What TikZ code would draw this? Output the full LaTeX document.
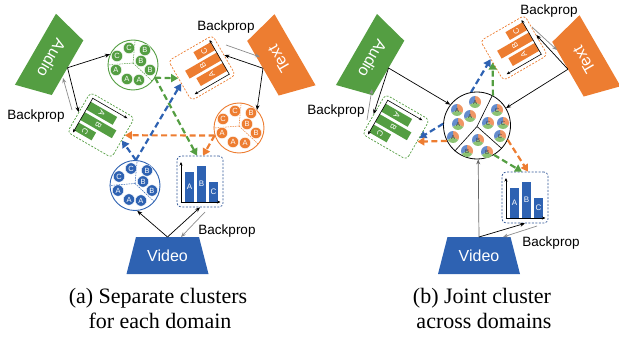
\documentclass[tikz,border=0pt]{standalone}
\usepackage{fontspec}
\setmainfont{Liberation Sans}
\newfontfamily\capfont{Liberation Serif}
\usetikzlibrary{arrows.meta,calc}
\definecolor{cGreen}{RGB}{84,158,66}
\definecolor{cOrange}{RGB}{237,125,49}
\definecolor{cBlue}{RGB}{46,98,178}
\definecolor{cBlueD}{RGB}{47,85,151}
\definecolor{cGray}{RGB}{140,140,140}
\definecolor{jOr}{RGB}{240,150,100}
\definecolor{jBl}{RGB}{100,140,205}
\definecolor{jGr}{RGB}{140,195,115}
\tikzset{
  modtext/.style={text=white, font=\fontsize{16}{18}\selectfont, inner sep=0pt},
  chartbox/.style={draw, dash pattern=on 2pt off 1.5pt, line width=0.7pt, rounded corners=4pt, fill=white, minimum width=46pt, minimum height=51pt, inner sep=0pt},
  clusterc/.style={circle, line width=0.9pt, fill=white, minimum size=50pt, inner sep=0pt},
  jointc/.style={circle, draw=black, line width=0.8pt, fill=white, minimum size=67pt, inner sep=0pt},
  divider/.style={line width=0.5pt, dash pattern=on 1.5pt off 1pt},
  letterdot/.style={circle, minimum size=11.4pt, inner sep=0pt, draw=white, line width=0.4pt, text=white, font=\fontsize{7.5}{8}\selectfont},
  jlbl/.style={inner sep=0pt, text=black!75, font=\fontsize{6}{7}\selectfont},
  fwd/.style={draw=black, line width=0.7pt, -{Stealth[length=5pt,width=4pt]}},
  bwd/.style={draw=cGray, line width=0.7pt, -{Stealth[length=5pt,width=4pt]}},
  xarrow/.style={line width=2.2pt, dash pattern=on 6pt off 3.5pt, -{Triangle[length=7pt,width=8pt]}},
  bplabel/.style={font=\fontsize{13.5}{15}\selectfont, inner sep=0pt, anchor=base},
  caplabel/.style={font=\capfont\fontsize{22}{25}\selectfont, inner sep=0pt, anchor=base},
  axisline/.style={line width=0.6pt, -{Stealth[length=3.5pt,width=3pt]}},
  barlbl/.style={text=white, font=\fontsize{8}{9}\selectfont, inner sep=0pt},
}
\newcommand\modality[6]{%
  \begin{scope}[shift={(#2,#3)}, rotate=#4]
    \fill[#5] (-31.5,-18.5) -- (31.5,-18.5) -- (41,18.5) -- (-41,18.5) -- cycle;
    \node[modtext, transform shape] (#1) at (0,0) {#6};
    \coordinate (#1in) at (0,-18.5);
  \end{scope}}
\newcommand\barchart[2]{%
  \fill[#1] (-15,20.5) rectangle (-6,-10);
  \fill[#1] (-3,20.5) rectangle (6,-16);
  \fill[#1] (9,20.5) rectangle (18,0.5);
  \draw[axisline] (-19,20.8) -- (-19,-19.5);
  \draw[axisline] (-19.3,20.5) -- (20.5,20.5);
  \node[barlbl] (#2a) at (-10.5,5) {A};
  \node[barlbl] (#2b) at (1.5,2) {B};
  \node[barlbl] (#2c) at (13.5,10.5) {C};}
\newcommand\chartat[6]{%
  \node[chartbox, draw=#5, rotate=#4] (#1) at (#2,#3) {};
  \begin{scope}[shift={(#2,#3)}, rotate=#4, every node/.append style={transform shape}]
    \barchart{#6}{#1}
  \end{scope}}
\newcommand\clustergroup[4]{%
  \node[clusterc, draw=#4] (#1) at (#2,#3) {};
  \draw[divider, draw=#4] ($(#1)+(0,-2)$) -- (#1.85);
  \draw[divider, draw=#4] ($(#1)+(0,-2)$) -- (#1.180);
  \draw[divider, draw=#4] ($(#1)+(0,-2)$) -- (#1.-40);
  \foreach \dx/\dy/\l [count=\i] in {-16/-9/C, -4/-17/C, 12/-15/B, 8/-4/B, 17/5/B, -17/5/A, -6/14/A, 6/15/A}
    \node[letterdot, fill=#4] (#1d\i) at ($(#1)+(\dx,\dy)$) {\l};}
\newcommand\jdot[4]{%
  \begin{scope}[shift={(#2,#3)}]
    \clip (0,0) circle[radius=6pt];
    \fill[jOr] (0,0) -- (8.66,5) -- (10,-10) -- (0,-10) -- cycle;
    \fill[jBl] (0,0) -- (0,-10) -- (-10,-10) -- (-8.66,5) -- cycle;
    \fill[jGr] (0,0) -- (-8.66,5) -- (-10,10) -- (10,10) -- (8.66,5) -- cycle;
  \end{scope}
  \node[jlbl] (#1) at (#2,#3) {#4};}
\begin{document}
\begin{tikzpicture}[x=1pt,y=-1pt]
\useasboundingbox (0,0) rectangle (619,337);

% ================= LEFT PANEL =================
\modality{audL}{51.5}{58.5}{-120}{cGreen}{Audio}
\modality{txtL}{279}{59}{120}{cOrange}{Text}
\modality{vidL}{167.5}{255.5}{0}{cBlue}{Video}

\chartat{gbL}{101}{125}{-120}{cGreen}{cGreen}
\chartat{obL}{202}{68}{120}{cOrange}{cOrange}
\chartat{bbL}{200}{181.5}{0}{cBlueD}{cBlue}

\clustergroup{gcL}{133}{65}{cGreen}
\clustergroup{ocL}{239}{128}{cOrange}
\clustergroup{bcL}{135}{185.5}{cBlue}

\draw[fwd] (audLin) -- (gcL.155);
\draw[fwd] (audLin) -- (gbL.south);
\draw[fwd] (txtLin) -- (obL.south);
\draw[fwd] (txtLin) -- (ocL.45);
\draw[fwd] (vidLin) -- (bcL.-85);
\draw[fwd] (vidLin) -- (bbL.south);

\coordinate (bpA1s) at (72,110); \coordinate (bpA1e) at (63,78);
\coordinate (bpT1s) at (226,45); \coordinate (bpT1e) at (260,57);
\coordinate (bpV1s) at (205,212); \coordinate (bpV1e) at (181,237);
\draw[bwd] (bpA1s) -- (bpA1e);
\draw[bwd] (bpT1s) -- (bpT1e);
\draw[bwd] (bpV1s) -- (bpV1e);

\draw[xarrow, cGreen] (gcL.-30) -- ($(obL.north)!3pt!(obL.north east)$);
\draw[xarrow, cGreen] (gcL.-30) -- ($(bbL.north)!3pt!(bbL.north west)$);
\draw[xarrow, cOrange] (ocL.197) -- ($(gbL.north)!3pt!(gbL.north west)$);
\draw[xarrow, cOrange] (ocL.197) -- ($(bbL.north)!3pt!(bbL.north east)$);
\draw[xarrow, cBlue] (bcL.88) -- ($(gbL.north)!3pt!(gbL.north east)$);
\draw[xarrow, cBlue] (bcL.88) -- ($(obL.north)!3pt!(obL.north west)$);

\node[bplabel] (bpL1) at (36,119) {Backprop};
\node[bplabel] (bpL2) at (226,31) {Backprop};
\node[bplabel] (bpL3) at (227,234) {Backprop};

\node[caplabel] (capA1) at (158,303) {(a) Separate clusters};
\node[caplabel] (capA2) at (160,328) {for each domain};

% ================= RIGHT PANEL =================
\modality{audR}{372.5}{58.75}{-120}{cGreen}{Audio}
\modality{txtR}{584}{60}{120}{cOrange}{Text}
\modality{vidR}{479}{255.5}{0}{cBlue}{Video}

\chartat{gbR}{396}{127}{-120}{cGreen}{cGreen}
\chartat{obR}{514}{48}{120}{cOrange}{cOrange}
\chartat{bbR}{525}{197.5}{0}{cBlueD}{cBlue}

\node[jointc] (jc) at (477,125.5) {};
\draw[line width=0.6pt] ($(jc)+(0,1)$) -- (jc.63);
\draw[line width=0.6pt] ($(jc)+(0,1)$) -- (jc.229);
\draw[line width=0.6pt] ($(jc)+(0,1)$) -- (jc.-43);
\jdot{ja1}{457}{110}{A}
\jdot{ja2}{475}{102}{A}
\jdot{ja3}{470}{116}{A}
\jdot{ja4}{458}{124}{A}
\jdot{ja5}{453}{137}{A}
\jdot{jc1}{497}{110}{C}
\jdot{jc2}{488}{123}{C}
\jdot{jc3}{503}{123}{C}
\jdot{jc4}{500}{136}{C}
\jdot{jb1}{478}{140}{B}
\jdot{jb2}{467}{151}{B}
\jdot{jb3}{487}{152}{B}

\draw[fwd] (audRin) -- (jc.142);
\draw[fwd] (audRin) -- (gbR.south);
\draw[fwd] (txtRin) -- (obR.south);
\draw[fwd] (txtRin) -- (jc.31);
\draw[fwd, draw=black!60] (vidRin) -- (jc.-88);
\draw[fwd] (vidRin) -- (bbR.south);

\coordinate (bpA2s) at (367,120); \coordinate (bpA2e) at (372,89);
\coordinate (bpT2s) at (532,27); \coordinate (bpT2e) at (557,50);
\coordinate (bpV2s) at (537,226); \coordinate (bpV2e) at (503,237);
\draw[bwd] (bpA2s) -- (bpA2e);
\draw[bwd] (bpT2s) -- (bpT2e);
\draw[bwd] (bpV2s) -- (bpV2e);

\draw[xarrow, cBlue] (jc.100) -- ($(obR.north)!2pt!(obR.north east)$);
\draw[xarrow, cGreen] (jc.62) -- ($(obR.north)!2pt!(obR.north west)$);
\draw[xarrow, cBlue] (jc.177) -- ($(gbR.north)!2pt!(gbR.north west)$);
\draw[xarrow, cOrange] (jc.207) -- ($(gbR.north)!2pt!(gbR.north east)$);
\draw[xarrow, cGreen] (jc.-60) -- ($(bbR.north)!3pt!(bbR.north west)$);
\draw[xarrow, cOrange] (jc.-25) -- ($(bbR.north)!3pt!(bbR.north east)$);

\node[bplabel] (bpR1) at (336,114) {Backprop};
\node[bplabel] (bpR2) at (549,15) {Backprop};
\node[bplabel] (bpR3) at (551,246) {Backprop};

\node[caplabel] (capB1) at (482,303) {(b) Joint cluster};
\node[caplabel] (capB2) at (484,328) {across domains};
\end{tikzpicture}
\end{document}
